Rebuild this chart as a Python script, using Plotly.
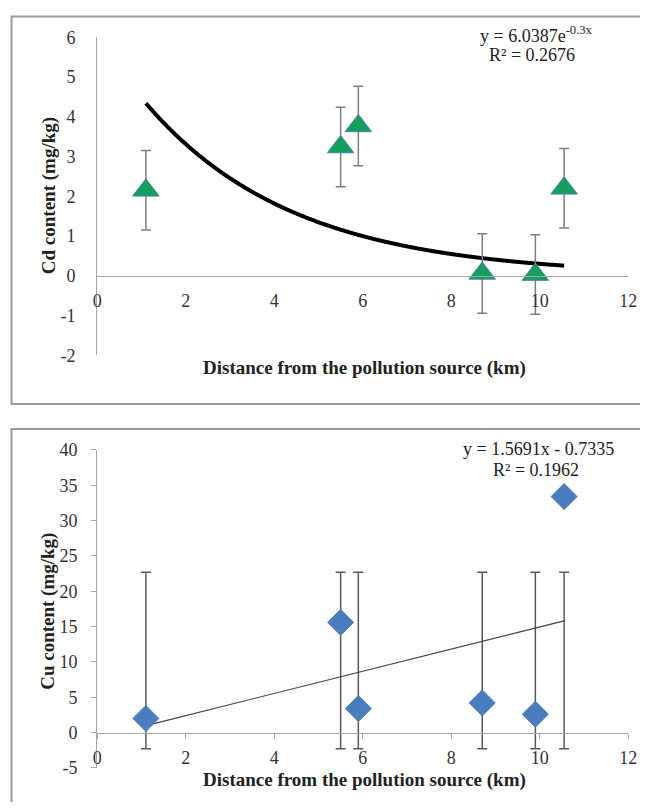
import numpy as np
import plotly.graph_objects as go

# ---------------- data ----------------
distance_km = [1.1, 5.5, 5.9, 8.7, 9.9, 10.55]
cd_content = [2.15, 3.24, 3.77, 0.06, 0.03, 2.2]
cd_error = [1.0, 1.0, 1.0, 1.0, 1.0, 1.0]
cu_content = [2.0, 15.6, 3.4, 4.2, 2.6, 33.4]
cu_err_low = [-2.3, -2.3, -2.3, -2.3, -2.3, -2.3]
cu_err_high = [22.7, 22.7, 22.7, 22.7, 22.7, 22.7]

cd_fit_a, cd_fit_b = 6.0387, -0.3      # y = a * exp(b x)
cu_fit_m, cu_fit_c = 1.5691, -0.7335   # y = m x + c
cd_eq_text = "y = 6.0387e<sup>-0.3x</sup>"
cd_r2_text = "R² = 0.2676"
cu_eq_text = "y = 1.5691x - 0.7335"
cu_r2_text = "R² = 0.1962"

x_ticks = [0, 2, 4, 6, 8, 10, 12]
cd_ticks = [-2, -1, 0, 1, 2, 3, 4, 5, 6]
cu_ticks = [-5, 0, 5, 10, 15, 20, 25, 30, 35, 40]
x_title = "Distance from the pollution source (km)"
cd_title = "Cd content (mg/kg)"
cu_title = "Cu content (mg/kg)"

# ---------------- layout helpers ----------------
PAGE_W, PAGE_H = 648, 810
BODY = 8                      # default page margin around the plot div
FW, FH = PAGE_W - 2 * BODY, PAGE_H - 2 * BODY
FONT = "Liberation Serif"
AX_COL = "#a6a6a6"
ERR_COL = "#7f7f7f"

# empirical correction between requested and observed page positions
def page_x(t):
    return (t - 3.6) / 0.983

def page_y(t):
    return (t - 8.8) / 0.978

def px_x(p):
    return (page_x(p) - BODY) / FW

def px_y(p):
    return 1 - (page_y(p) - BODY) / FH

x_dom = [px_x(97), px_x(630)]
top_dom = [px_y(355), px_y(36)]
bot_dom = [px_y(769), px_y(450)]
cd_range = [-2, 6]
cu_range = [-5, 40]

def zero_pos(dom, rng):
    return dom[0] + (0 - rng[0]) / (rng[1] - rng[0]) * (dom[1] - dom[0])

def labels(vals):
    return [str(v) for v in vals]

fig = go.Figure()

# ---------- Top: Cd ----------
xs = np.linspace(min(distance_km), max(distance_km), 300)
fig.add_trace(go.Scatter(
    x=xs, y=cd_fit_a * np.exp(cd_fit_b * xs), mode="lines",
    line=dict(color="black", width=4, shape="spline"), xaxis="x", yaxis="y",
    showlegend=False, hoverinfo="skip"))
fig.add_trace(go.Scatter(
    x=distance_km, y=cd_content, mode="markers",
    marker=dict(symbol="triangle-up", size=23, color="#12a05a",
                line=dict(color="#4a7ebb", width=1)),
    error_y=dict(type="data", array=cd_error, color=ERR_COL, thickness=1.5, width=5),
    xaxis="x", yaxis="y", showlegend=False))

# ---------- Bottom: Cu ----------
cu_mid = [(lo + hi) / 2 for lo, hi in zip(cu_err_low, cu_err_high)]
cu_half = [(hi - lo) / 2 for lo, hi in zip(cu_err_low, cu_err_high)]
fig.add_trace(go.Scatter(
    x=distance_km, y=cu_mid, mode="markers",
    marker=dict(size=1, color="rgba(0,0,0,0)"),
    error_y=dict(type="data", array=cu_half, color="#595959", thickness=1.5, width=5),
    xaxis="x2", yaxis="y2", showlegend=False, hoverinfo="skip"))
xl = np.array([min(distance_km), max(distance_km)])
fig.add_trace(go.Scatter(
    x=xl, y=cu_fit_m * xl + cu_fit_c, mode="lines",
    line=dict(color="#404040", width=1.2), xaxis="x2", yaxis="y2",
    showlegend=False, hoverinfo="skip"))
fig.add_trace(go.Scatter(
    x=distance_km, y=cu_content, mode="markers",
    marker=dict(symbol="diamond", size=20, color="#4a7dbf",
                line=dict(color="#4a7dbf", width=1)),
    xaxis="x2", yaxis="y2", showlegend=False))

tickfont = dict(family=FONT, size=18, color="#333333")

fig.update_layout(
    width=FW, height=FH,
    margin=dict(l=0, r=0, t=0, b=0),
    paper_bgcolor="white", plot_bgcolor="rgba(0,0,0,0)",
    xaxis=dict(domain=x_dom, range=[0, 12], anchor="free",
               position=zero_pos(top_dom, cd_range),
               tickvals=x_ticks, ticktext=labels(x_ticks),
               showgrid=False, zeroline=False,
               showline=True, linecolor=AX_COL, linewidth=1.2,
               ticks="", ticklabelstandoff=9, tickfont=tickfont,
               ticklabeloverflow="allow"),
    yaxis=dict(domain=top_dom, range=cd_range, anchor="x",
               tickvals=cd_ticks, ticktext=labels(cd_ticks),
               showgrid=False, zeroline=False,
               showline=True, linecolor=AX_COL, linewidth=1.2,
               ticks="", ticklabelstandoff=17, tickfont=tickfont,
               ticklabeloverflow="allow"),
    xaxis2=dict(domain=x_dom, range=[0, 12], anchor="free",
                position=zero_pos(bot_dom, cu_range),
                tickvals=x_ticks, ticktext=labels(x_ticks),
                showgrid=False, zeroline=False,
                showline=True, linecolor=AX_COL, linewidth=1.2,
                ticks="outside", ticklen=5, tickcolor=AX_COL,
                ticklabelstandoff=4, tickfont=tickfont,
                ticklabeloverflow="allow"),
    yaxis2=dict(domain=bot_dom, range=cu_range, anchor="x2",
                tickvals=cu_ticks, ticktext=labels(cu_ticks),
                showgrid=False, zeroline=False,
                showline=True, linecolor=AX_COL, linewidth=1.2,
                ticks="outside", ticklen=5, tickcolor=AX_COL,
                ticklabelstandoff=10, tickfont=tickfont,
                ticklabeloverflow="allow"),
)

# panel borders
fig.add_shape(type="rect", xref="paper", yref="paper",
              x0=px_x(11), x1=1.05, y0=px_y(404), y1=px_y(15),
              line=dict(color="#9a9a9a", width=2), fillcolor="rgba(0,0,0,0)", layer="below")
fig.add_shape(type="rect", xref="paper", yref="paper",
              x0=px_x(11), x1=1.05, y0=-0.05, y1=px_y(429),
              line=dict(color="#9a9a9a", width=2), fillcolor="rgba(0,0,0,0)", layer="below")

titlefont = dict(family=FONT, size=19, color="#222222")
eqfont = dict(family=FONT, size=18, color="#222222")
ann = [
    dict(text="<b>" + cd_title + "</b>", x=px_x(48), y=px_y(195), textangle=-90),
    dict(text="<b>" + cu_title + "</b>", x=px_x(48), y=px_y(612), textangle=-90),
    dict(text="<b>" + x_title + "</b>", x=px_x(365), y=px_y(368)),
    dict(text="<b>" + x_title + "</b>", x=px_x(365), y=px_y(781)),
]
for a in ann:
    fig.add_annotation(xref="paper", yref="paper", showarrow=False,
                       xanchor="center", yanchor="middle", font=titlefont, **a)
for t, x, y in [(cd_eq_text, 538, 33), (cd_r2_text, 533, 54),
                (cu_eq_text, 540, 449), (cu_r2_text, 537, 470)]:
    fig.add_annotation(xref="paper", yref="paper", showarrow=False, text=t,
                       x=px_x(x), y=px_y(y), xanchor="center", yanchor="middle",
                       font=eqfont)

fig.write_html("out.html", config={"displayModeBar": False})
